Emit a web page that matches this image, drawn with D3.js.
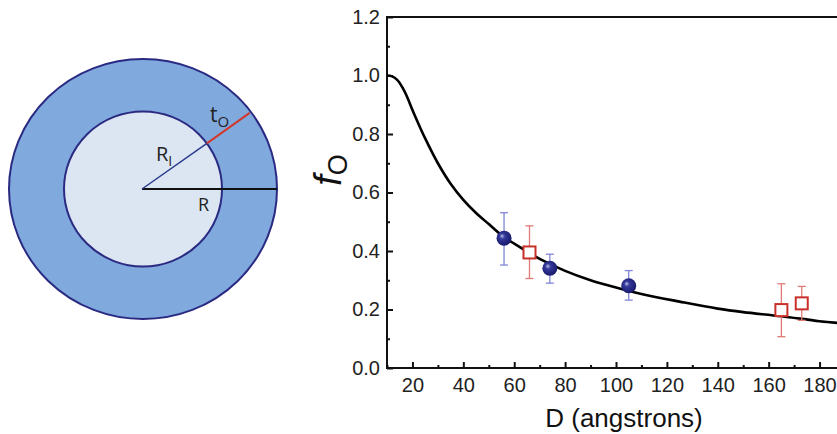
<!DOCTYPE html>
<html>
<head>
<meta charset="utf-8">
<script src="https://cdn.jsdelivr.net/npm/d3@7"></script>
<style>
    body { margin: 0; background: #fff; }
    svg { display: block; }
    .tick text { font-family: "Liberation Sans", Arial, sans-serif; fill: #222; }
</style>
</head>
<body>
<div id="chart"></div>
<script>
//curve (D in angstrons, fraction f_O)
var curveD = [10, 12, 14, 16, 18, 20, 22, 25, 30, 35, 40, 45, 50, 56, 60, 66, 70, 80, 90, 100, 110, 125, 140, 150, 165, 180, 190];
var curveF = [1.0, 0.997, 0.985, 0.96, 0.925, 0.882, 0.842, 0.785, 0.70, 0.630, 0.575, 0.53, 0.492, 0.447, 0.425, 0.393, 0.373, 0.332, 0.300, 0.275, 0.253, 0.227, 0.203, 0.191, 0.177, 0.160, 0.152];

//filled circles
var circD = [56, 74, 105];
var circF = [0.444, 0.341, 0.281];
var circLo = [0.352, 0.290, 0.232];
var circHi = [0.531, 0.389, 0.333];

//open squares
var sqD = [66, 165, 173];
var sqF = [0.395, 0.198, 0.221];
var sqLo = [0.306, 0.107, 0.163];
var sqHi = [0.486, 0.288, 0.279];

var xMajor = [20, 40, 60, 80, 100, 120, 140, 160, 180];
var xMinor = [10, 30, 50, 70, 90, 110, 130, 150, 170, 190];
var yMajor = [0, 0.2, 0.4, 0.6, 0.8, 1.0, 1.2];
var yMinor = [0.1, 0.3, 0.5, 0.7, 0.9, 1.1];

(function(){

    var W = 837, H = 434;
    var svg = d3.select("#chart").append("svg")
        .attr("width", W)
        .attr("height", H);

    var defs = svg.append("defs");
    var grad = defs.append("radialGradient")
        .attr("id", "ball")
        .attr("cx", "45%").attr("cy", "45%").attr("r", "60%")
        .attr("fx", "35%").attr("fy", "35%");
    grad.append("stop").attr("offset", "0%").attr("stop-color", "#b9bde6");
    grad.append("stop").attr("offset", "30%").attr("stop-color", "#34399a");
    grad.append("stop").attr("offset", "100%").attr("stop-color", "#141666");

    drawDiagram();
    drawChart();

    //shell/core diagram on the left
    function drawDiagram(){
        var g = svg.append("g").attr("class", "diagram");
        var cx = 143, cy = 189;
        var outer = {rx: 134, ry: 130}, inner = {rx: 79, ry: 77.5};

        g.append("ellipse")
            .attr("cx", cx).attr("cy", cy)
            .attr("rx", outer.rx).attr("ry", outer.ry)
            .attr("fill", "#80a9dd")
            .attr("stroke", "#2a2a82")
            .attr("stroke-width", 2);
        g.append("ellipse")
            .attr("cx", cx).attr("cy", cy)
            .attr("rx", inner.rx).attr("ry", inner.ry)
            .attr("fill", "#dce6f2")
            .attr("stroke", "#2a2a82")
            .attr("stroke-width", 2);

        //R line
        g.append("line")
            .attr("x1", cx - 1).attr("y1", cy)
            .attr("x2", cx + outer.rx).attr("y2", cy)
            .attr("stroke", "#111")
            .attr("stroke-width", 2);

        //R_I and t_O along the same direction
        var a = 35.5 * Math.PI / 180;
        var ri = 78.5, ro = 131;
        g.append("line")
            .attr("x1", cx - 1).attr("y1", cy)
            .attr("x2", cx + ri * Math.cos(a)).attr("y2", cy - ri * Math.sin(a))
            .attr("stroke", "#2b3a8c")
            .attr("stroke-width", 1.5);
        g.append("line")
            .attr("x1", cx + ri * Math.cos(a)).attr("y1", cy - ri * Math.sin(a))
            .attr("x2", cx + ro * Math.cos(a)).attr("y2", cy - ro * Math.sin(a))
            .attr("stroke", "#d0392b")
            .attr("stroke-width", 2);

        var font = "'Open Sans', 'Noto Sans', sans-serif";
        var t1 = g.append("text")
            .attr("x", 156).attr("y", 161)
            .attr("font-family", font).attr("font-size", 20).attr("fill", "#222");
        t1.append("tspan").text("R");
        t1.append("tspan").attr("dy", 5).attr("font-size", 14).text("I");

        var t2 = g.append("text")
            .attr("x", 210).attr("y", 122)
            .attr("font-family", font).attr("font-size", 21).attr("fill", "#222");
        t2.append("tspan").text("t");
        t2.append("tspan").attr("dy", 5).attr("font-size", 15).text("O");

        g.append("text")
            .attr("x", 198).attr("y", 211)
            .attr("font-family", font).attr("font-size", 18).attr("fill", "#222")
            .text("R");
    }

    function drawChart(){
        var x = d3.scaleLinear().domain([10, 190]).range([387, 845]);
        var y = d3.scaleLinear().domain([0, 1.2]).range([368, 17]);

        var g = svg.append("g").attr("class", "plot");

        //frame
        g.append("rect")
            .attr("x", x(10)).attr("y", y(1.2))
            .attr("width", x(190) - x(10))
            .attr("height", y(0) - y(1.2))
            .attr("fill", "none")
            .attr("stroke", "#111")
            .attr("stroke-width", 2);

        //minor ticks
        g.append("g")
            .attr("transform", "translate(0," + y(0) + ")")
            .call(d3.axisBottom(x).tickValues(xMinor).tickSize(-3).tickFormat(""))
            .call(styleAxis);
        g.append("g")
            .attr("transform", "translate(" + x(10) + ",0)")
            .call(d3.axisLeft(y).tickValues(yMinor).tickSize(-3).tickFormat(""))
            .call(styleAxis);

        //major ticks
        g.append("g")
            .attr("transform", "translate(0," + y(0) + ")")
            .call(d3.axisBottom(x).tickValues(xMajor).tickSize(-6).tickPadding(10).tickFormat(d3.format("d")))
            .call(styleAxis)
            .selectAll("text").attr("font-size", 20);
        g.append("g")
            .attr("transform", "translate(" + x(10) + ",0)")
            .call(d3.axisLeft(y).tickValues(yMajor).tickSize(-6).tickPadding(7).tickFormat(d3.format(".1f")))
            .call(styleAxis)
            .selectAll("text").attr("font-size", 20);

        //model curve
        var pts = curveD.map(function(d, i){ return [d, curveF[i]]; });
        g.append("path")
            .datum(pts)
            .attr("fill", "none")
            .attr("stroke", "#000")
            .attr("stroke-width", 2.6)
            .attr("d", d3.line()
                .x(function(d){ return x(d[0]); })
                .y(function(d){ return y(d[1]); })
                .curve(d3.curveCatmullRom.alpha(0.5)));

        //error bars
        errorBars(circD, circLo, circHi, "#8286d8");
        errorBars(sqD, sqLo, sqHi, "#e07a74");

        function errorBars(ds, lo, hi, color){
            var eb = g.append("g").attr("stroke", color).attr("stroke-width", 1.3);
            ds.forEach(function(d, i){
                eb.append("line")
                    .attr("x1", x(d)).attr("x2", x(d))
                    .attr("y1", y(lo[i])).attr("y2", y(hi[i]));
                [lo[i], hi[i]].forEach(function(v){
                    eb.append("line")
                        .attr("x1", x(d) - 4).attr("x2", x(d) + 4)
                        .attr("y1", y(v)).attr("y2", y(v));
                });
            });
        }

        //points
        g.selectAll(".sq")
            .data(sqD)
            .enter().append("rect")
            .attr("class", "sq")
            .attr("x", function(d){ return x(d) - 6; })
            .attr("y", function(d, i){ return y(sqF[i]) - 6; })
            .attr("width", 12).attr("height", 12)
            .attr("fill", "#fff")
            .attr("stroke", "#c8302a")
            .attr("stroke-width", 2);

        g.selectAll(".ball")
            .data(circD)
            .enter().append("circle")
            .attr("class", "ball")
            .attr("cx", function(d){ return x(d); })
            .attr("cy", function(d, i){ return y(circF[i]); })
            .attr("r", 7.5)
            .attr("fill", "url(#ball)");

        //axis titles
        svg.append("text")
            .attr("x", 624).attr("y", 427)
            .attr("text-anchor", "middle")
            .attr("font-family", "'Liberation Sans', Arial, sans-serif")
            .attr("font-size", 26)
            .attr("fill", "#111")
            .text("D (angstrons)");

        var yl = svg.append("text")
            .attr("transform", "translate(341,170) rotate(-90)")
            .attr("text-anchor", "middle")
            .attr("font-family", "'Liberation Sans', Arial, sans-serif")
            .attr("fill", "#111");
        yl.append("tspan").attr("font-size", 38).attr("font-style", "italic").text("f");
        yl.append("tspan").attr("font-size", 27).attr("dy", 6).text("O");
    }

    function styleAxis(sel){
        sel.select(".domain").remove();
        sel.selectAll(".tick line").attr("stroke", "#111").attr("stroke-width", 2);
    }

})();
</script>
</body>
</html>
